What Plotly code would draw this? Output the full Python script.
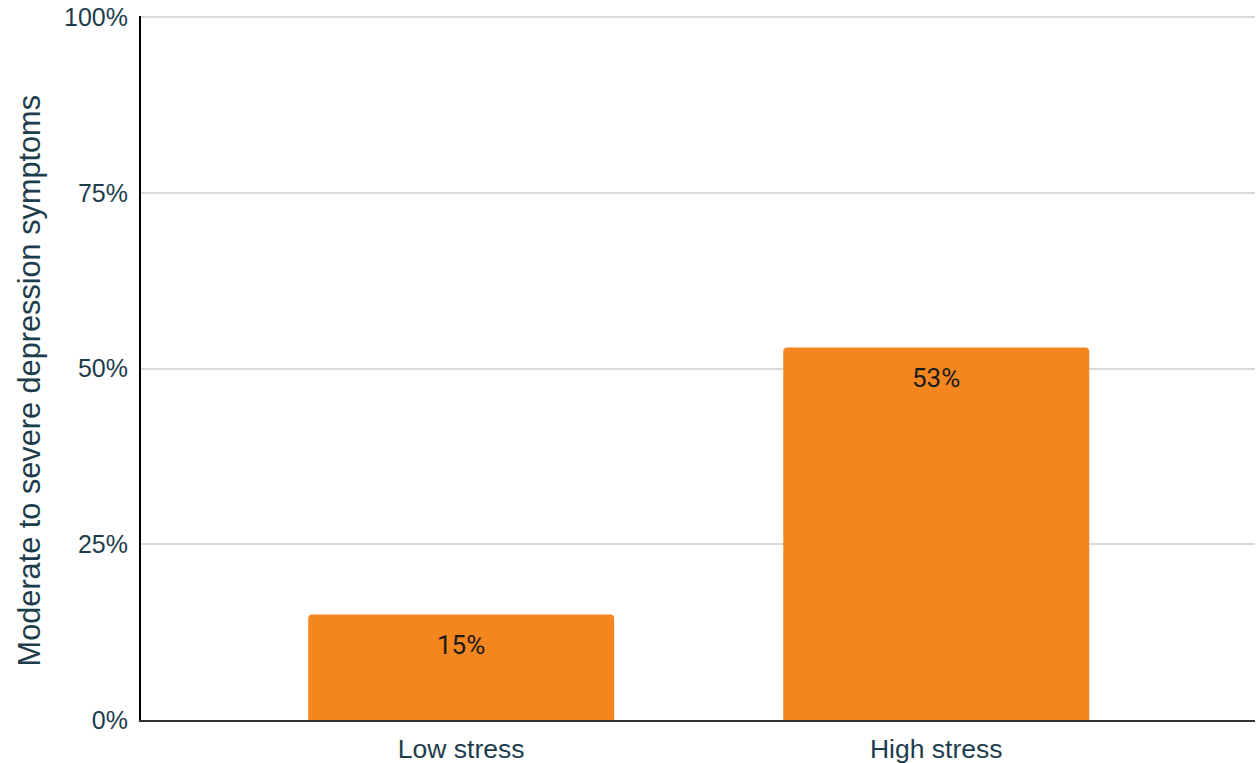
import plotly.graph_objects as go

# Share of respondents with moderate to severe depression symptoms, by stress level
categories = ["Low stress", "High stress"]
values = [15, 53]
y_ticks = [0, 25, 50, 75, 100]
y_tick_labels = [f"{t}%" for t in y_ticks]
y_title = "Moderate to severe depression symptoms"

BAR_COLOR = "#F5861F"
TEXT_COLOR = "#1E3D4C"
AXIS_FONT = "Liberation Sans, Arial, sans-serif"

fig = go.Figure()
fig.add_trace(go.Bar(
    x=categories,
    y=values,
    marker=dict(color=BAR_COLOR, line=dict(width=0)),
    width=0.644,
    hoverinfo="skip",
))

# value labels sitting just inside the top of each bar
for c, v in zip(categories, values):
    fig.add_annotation(
        x=c, y=v, text=f"{v}%", showarrow=False,
        yanchor="top", yshift=-13,
        font=dict(family="Roboto, sans-serif", size=26, color="#1a1a1a"),
    )

# vertical y-axis title, placed left of the tick labels
fig.add_annotation(
    xref="paper", yref="paper", x=0, y=0.481,
    xanchor="center", yanchor="middle", xshift=-112,
    text=y_title, textangle=-90, showarrow=False,
    font=dict(size=30.7, family=AXIS_FONT, color=TEXT_COLOR),
)

fig.update_layout(
    width=1259, height=763,
    margin=dict(l=141, r=4, t=16, b=43, autoexpand=False),
    paper_bgcolor="white", plot_bgcolor="white",
    showlegend=False,
    barcornerradius=4,
    font=dict(family=AXIS_FONT, color=TEXT_COLOR),
    xaxis=dict(
        type="category",
        range=[-0.674, 1.671],
        automargin=False,
        showline=True, linecolor="#333333", linewidth=2,
        showgrid=False, ticks="",
        ticklabelstandoff=4,
        tickfont=dict(size=26.5, family=AXIS_FONT, color=TEXT_COLOR),
    ),
    yaxis=dict(
        range=[0, 100.2],
        automargin=False,
        tickvals=y_ticks, ticktext=y_tick_labels,
        showline=True, linecolor="#000000", linewidth=2,
        showgrid=True, gridcolor="#D9D9D9", gridwidth=2,
        zeroline=False, ticks="",
        ticklabelstandoff=6,
        tickfont=dict(size=25, family=AXIS_FONT, color=TEXT_COLOR),
    ),
)

fig.write_html("out.html")
